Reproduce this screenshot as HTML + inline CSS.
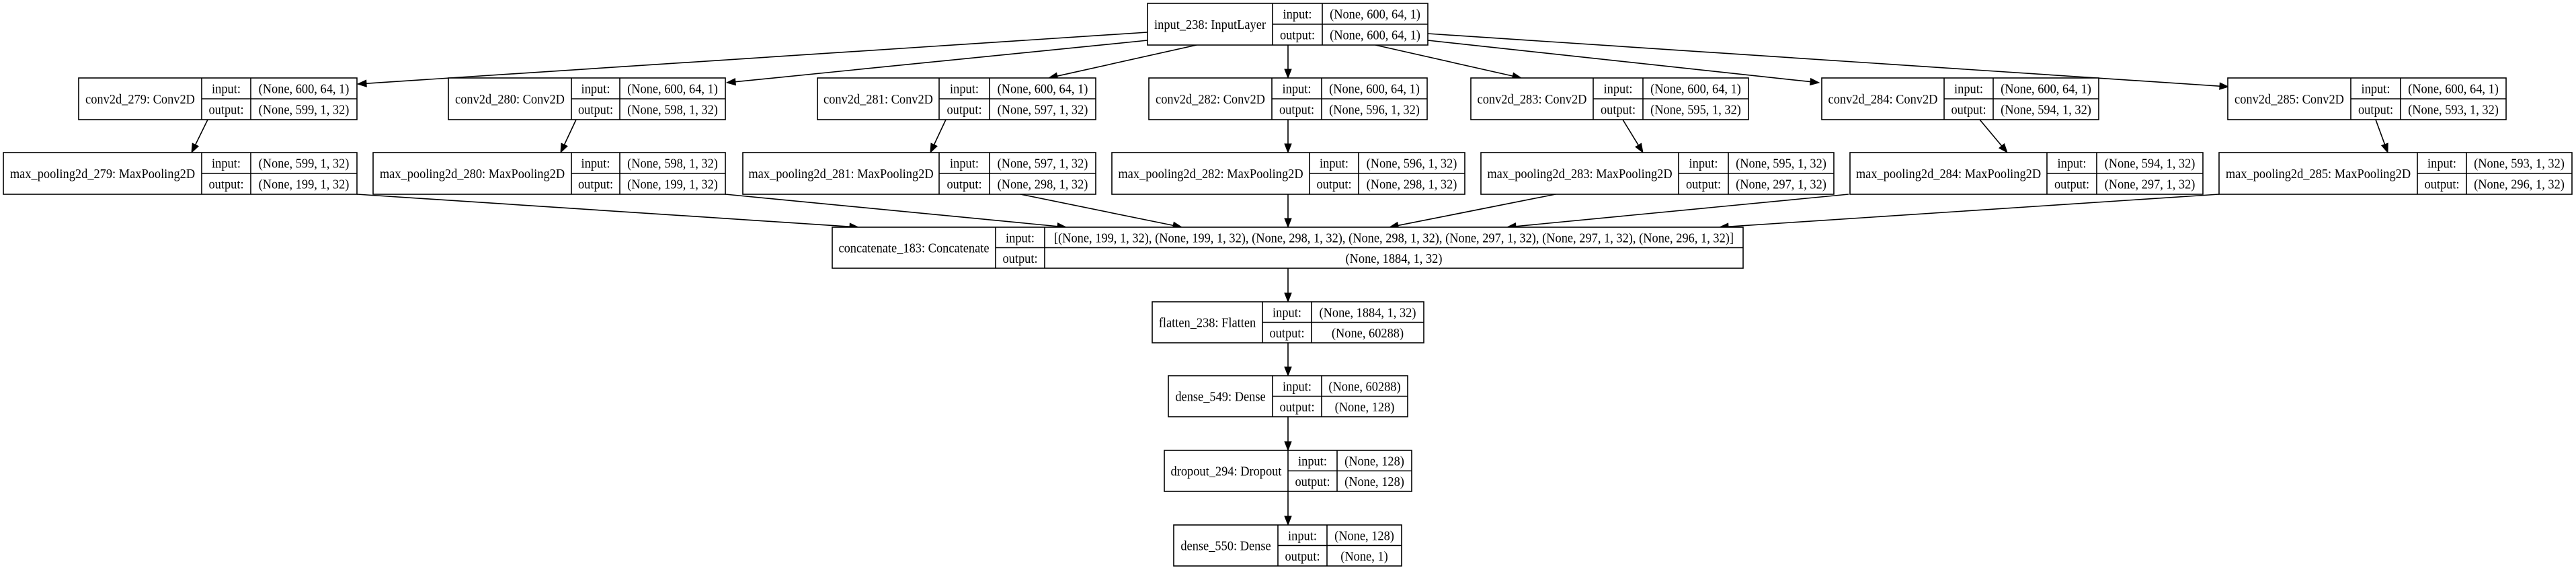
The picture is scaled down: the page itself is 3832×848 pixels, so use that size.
<!DOCTYPE html>
<html><head><meta charset="utf-8"><style>
html,body{margin:0;padding:0;background:#fff;}
svg{display:block;}
text{font-family:"Liberation Serif","DejaVu Serif",serif;font-size:20px;fill:#000;}
</style></head><body>
<svg id="s" width="3832" height="848" xmlns="http://www.w3.org/2000/svg"></svg>
<script>
var S=document.getElementById('s'),out='';
function T(x,y,t){out+='<text text-anchor="middle" transform="translate('+x+','+(y+7)+') scale(0.92,1)">'+t+'</text>';}
function N(x1,x2,y1,y2,d1,d2,name,a,b){
 var m=(y1+y2)/2;
 out+='<rect x="'+x1+'" y="'+y1+'" width="'+(x2-x1)+'" height="'+(y2-y1)+'" fill="#fff" stroke="#000" stroke-width="1.6"/>';
 out+='<line x1="'+d1+'" y1="'+y1+'" x2="'+d1+'" y2="'+y2+'" stroke="#000" stroke-width="1.6"/>';
 out+='<line x1="'+d2+'" y1="'+y1+'" x2="'+d2+'" y2="'+y2+'" stroke="#000" stroke-width="1.6"/>';
 out+='<line x1="'+d1+'" y1="'+m+'" x2="'+x2+'" y2="'+m+'" stroke="#000" stroke-width="1.6"/>';
 T((x1+d1)/2,m,name);T((d1+d2)/2,(y1+m)/2,'input:');T((d1+d2)/2,(m+y2)/2,'output:');
 T((d2+x2)/2,(y1+m)/2,a);T((d2+x2)/2,(m+y2)/2,b);
}
function A(x1,y1,x2,y2){
 var dx=x2-x1,dy=y2-y1,L=Math.sqrt(dx*dx+dy*dy),ux=dx/L,uy=dy/L,bx=x2-ux*13,by=y2-uy*13;
 out+='<line x1="'+x1+'" y1="'+y1+'" x2="'+bx+'" y2="'+by+'" stroke="#000" stroke-width="1.6"/>';
 out+='<polygon points="'+x2+','+y2+' '+(bx-uy*5)+','+(by+ux*5)+' '+(bx+uy*5)+','+(by-ux*5)+'" fill="#000" stroke="#000" stroke-width="1"/>';
}
A(1707,48,532,125);A(1707,60,1081,123);A(1780,67,1560,116);A(1916,67,1916,116);
A(2046,67,2263,116);A(2124,60,2706,123);A(2124,50,3315,129);
A(309,178,285,227);A(857,178,834,227);A(1407,178,1384,227);A(1916,178,1916,227);
A(2414,178,2444,227);A(2945,178,2986,227);A(3534,178,3552,227);
A(531,289,1277,338);A(1079,289,1586,338);A(1518,289,1758,338);A(1916,289,1916,338);
A(2314,289,2067,338);A(2750,289,2242,338);A(3301,289,2558,338);
A(1916,399,1916,449);A(1916,510,1916,559);A(1916,620,1916,670);A(1916,731,1916,781);
N(1707,2124,5,67,1893,1967,'input_238: InputLayer','(None, 600, 64, 1)','(None, 600, 64, 1)');
var cv=[[117,531,300,373],[667,1079,850,922],[1216,1630,1397,1472],[1709,2123,1892,1966],[2188,2601,2370,2444],[2710,3122,2892,2965],[3314,3728,3497,3571]];
var mp=[[5,531,300,373],[555,1079,850,922],[1105,1630,1397,1472],[1654,2179,1948,2021],[2203,2728,2497,2571],[2752,3277,3045,3119],[3301,3826,3596,3669]];
var o1=[599,598,597,596,595,594,593],o2=[199,199,298,298,297,297,296];
for(var i=0;i<7;i++){var c=cv[i],p=mp[i],n=279+i;
 N(c[0],c[1],116,178,c[2],c[3],'conv2d_'+n+': Conv2D','(None, 600, 64, 1)','(None, '+o1[i]+', 1, 32)');
 N(p[0],p[1],227,289,p[2],p[3],'max_pooling2d_'+n+': MaxPooling2D','(None, '+o1[i]+', 1, 32)','(None, '+o2[i]+', 1, 32)');}
N(1238,2593,338,399,1481,1554,'concatenate_183: Concatenate','[(None, 199, 1, 32), (None, 199, 1, 32), (None, 298, 1, 32), (None, 298, 1, 32), (None, 297, 1, 32), (None, 297, 1, 32), (None, 296, 1, 32)]','(None, 1884, 1, 32)');
N(1714,2118,449,510,1878,1951,'flatten_238: Flatten','(None, 1884, 1, 32)','(None, 60288)');
N(1738,2094,559,620,1893,1966,'dense_549: Dense','(None, 60288)','(None, 128)');
N(1732,2100,670,731,1916,1989,'dropout_294: Dropout','(None, 128)','(None, 128)');
N(1746,2085,781,842,1901,1974,'dense_550: Dense','(None, 128)','(None, 1)');
S.innerHTML=out;
</script>
</body></html>
